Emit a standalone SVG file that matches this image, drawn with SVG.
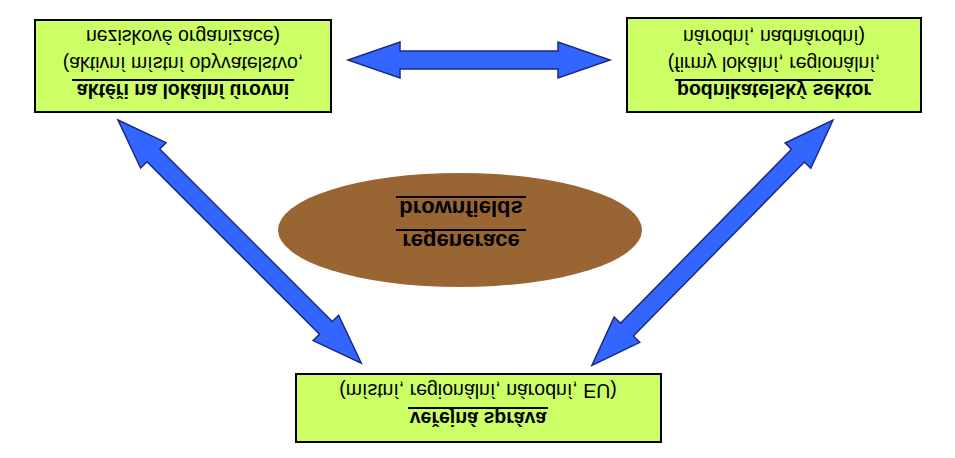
<svg xmlns="http://www.w3.org/2000/svg" width="955" height="458" viewBox="0 0 955 458">
<style>
.box{fill:#ccff66;stroke:#000;stroke-width:2}
.t{font-family:"Liberation Sans",Arial,sans-serif;font-size:19.5px;text-anchor:middle;fill:#000}
.b{font-weight:bold}
.arr{fill:#3366ff;stroke:#1a2a80;stroke-width:1.5}
.u{stroke:#000;stroke-width:2}
</style>
<defs>
<polygon id="a344" points="0,0 50,-18 50,-9 294,-9 294,-18 344,0 294,18 294,9 50,9 50,18"/>
</defs>
<rect width="955" height="458" fill="#fff"/>
<g id="connectors">
<polygon class="arr" points="348,60 400,42 400,51 558,51 558,42 610,60 558,78 558,69 400,69 400,78"/>
<use href="#a344" class="arr" transform="translate(118,120) rotate(45)"/>
<use href="#a344" class="arr" transform="translate(833,120) rotate(134.5)"/>
</g>
<g id="center">
<ellipse cx="460" cy="230" rx="182" ry="57" fill="#996633"/>
<line class="u" x1="396" y1="197" x2="526" y2="197"/>
<text class="t b" style="font-size:22px" transform="matrix(1,0,0,-1,461,201)">brownfields</text>
<line class="u" x1="396" y1="230" x2="526" y2="230"/>
<text class="t b" style="font-size:22px" transform="matrix(1,0,0,-1,461,234)">regenerace</text>
</g>
<g id="n1">
<rect class="box" x="35" y="20" width="296" height="92"/>
<line class="u" x1="72" y1="80" x2="294" y2="80"/>
<text class="t b" transform="matrix(1,0,0,-1,183,84)">aktéři na lokální úrovni</text>
<text class="t" transform="matrix(1,0,0,-1,183,57)">(aktivní místní obyvatelstvo,</text>
<text class="t" transform="matrix(1,0,0,-1,183,30)">neziskové organizace)</text>
</g>
<g id="n2">
<rect class="box" x="627" y="18" width="294" height="94"/>
<line class="u" x1="675" y1="80" x2="873" y2="80"/>
<text class="t b" transform="matrix(1,0,0,-1,774,84)">podnikatelský sektor</text>
<text class="t" transform="matrix(1,0,0,-1,774,57)">(firmy lokální, regionální,</text>
<text class="t" transform="matrix(1,0,0,-1,774,30)">národní, nadnárodní)</text>
</g>
<g id="n3">
<rect class="box" x="296" y="374" width="365" height="68"/>
<line class="u" x1="408" y1="408" x2="548" y2="408"/>
<text class="t b" transform="matrix(1,0,0,-1,478,412)">veřejná správa</text>
<text class="t" transform="matrix(1,0,0,-1,478,384)">(místní, regionální, národní, EU)</text>
</g>
</svg>
